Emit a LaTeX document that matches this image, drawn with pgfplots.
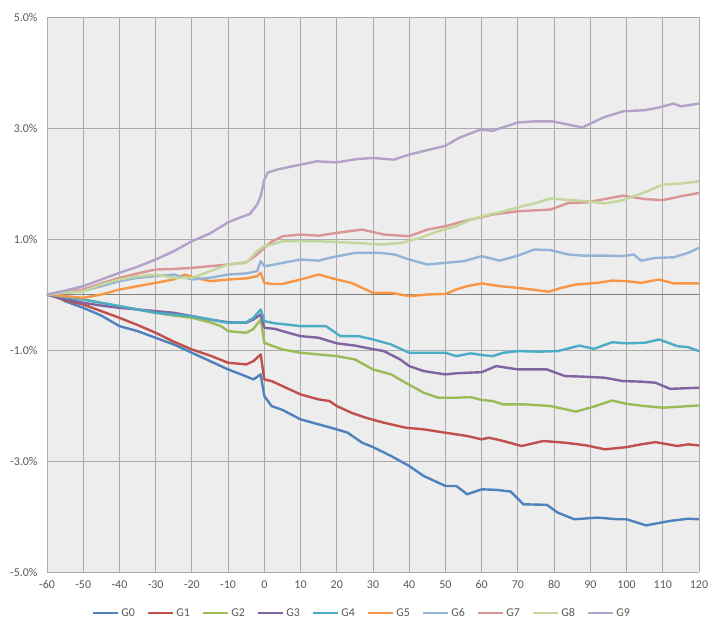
\documentclass[border=0pt]{standalone}
\usepackage{fontspec}
\setmainfont{Carlito}
\usepackage{pgfplots}
\pgfplotsset{compat=1.18}
\definecolor{cG0}{HTML}{4F81BD}
\definecolor{cG1}{HTML}{C0504D}
\definecolor{cG2}{HTML}{9BBB59}
\definecolor{cG3}{HTML}{8064A2}
\definecolor{cG4}{HTML}{4BACC6}
\definecolor{cG5}{HTML}{F79646}
\definecolor{cG6}{HTML}{95B3D7}
\definecolor{cG7}{HTML}{D99694}
\definecolor{cG8}{HTML}{C3D69B}
\definecolor{cG9}{HTML}{B3A2C7}
\definecolor{txt}{HTML}{595959}
\definecolor{bg}{HTML}{EDEDED}
\definecolor{grd}{HTML}{ABABAB}
\begin{document}
\begin{tikzpicture}
\useasboundingbox (-47bp,-52bp) rectangle (661bp,572bp);
\begin{axis}[
  at={(0,0)}, anchor=south west,
  scale only axis, width=652bp, height=555bp,
  xmin=-60, xmax=120, ymin=-5, ymax=5,
  axis line style={draw=none},
  axis background/.style={fill=bg},
  major tick length=0pt,
  xtick={-60,-50,...,120},
  xticklabels={-60,-50,-40,-30,-20,-10,0,10,20,30,40,50,60,70,80,90,100,110,120},
  ytick={-5,-3,-1,1,3,5},
  yticklabels={-5.0\%,-3.0\%,-1.0\%,1.0\%,3.0\%,5.0\%},
  extra y ticks={0}, extra y tick labels={},
  extra y tick style={grid style={draw=black!50, line width=1bp}},
  grid=major,
  grid style={draw=grd, line width=0.9bp},
  tick label style={font=\fontsize{12}{14}\selectfont, text=txt},
  xticklabel style={yshift=-5bp},
  yticklabel style={xshift=-6bp},
  legend columns=10,
  legend style={at={(0.483,-0.074)}, anchor=center, draw=none, fill=none,
    font=\fontsize{12}{14}\selectfont, text=txt,
    nodes={inner xsep=2bp},
    /tikz/every even column/.append style={column sep=10bp}},
  legend image code/.code={\draw[#1, line width=2.4bp] (0bp,0bp) -- (25bp,0bp);},
  every axis plot/.append style={line width=2.4bp, no marks, line join=round},
]
\addplot[cG0] coordinates {(-60,0) (-57,-0.05) (-55,-0.12) (-50,-0.24) (-45,-0.38) (-40,-0.57) (-35,-0.66) (-30,-0.78) (-25,-0.9) (-20,-1.05) (-15,-1.2) (-10,-1.35) (-6,-1.45) (-3,-1.53) (-1,-1.44) (0,-1.83) (2,-2.01) (5,-2.08) (10,-2.25) (15,-2.34) (20,-2.43) (23,-2.49) (27,-2.67) (30,-2.75) (35,-2.91) (40,-3.09) (44,-3.27) (50,-3.45) (53,-3.45) (56,-3.60) (60,-3.51) (64,-3.52) (68,-3.55) (71.5,-3.78) (78,-3.79) (81,-3.93) (85.6,-4.05) (92,-4.02) (97.6,-4.05) (100,-4.05) (105.4,-4.16) (112,-4.08) (117,-4.04) (120,-4.05)};
\addlegendentry{G0}
\addplot[cG1] coordinates {(-60,0) (-55,-0.1) (-50,-0.18) (-45,-0.3) (-40,-0.42) (-35,-0.55) (-30,-0.69) (-25,-0.85) (-20,-0.99) (-15,-1.1) (-10,-1.23) (-5,-1.26) (-3,-1.2) (-1,-1.08) (0,-1.53) (2,-1.56) (5,-1.65) (10,-1.80) (15,-1.89) (18,-1.92) (20,-2.01) (24,-2.13) (28,-2.22) (33,-2.31) (39,-2.40) (44,-2.43) (50,-2.49) (56,-2.55) (60,-2.61) (62,-2.58) (66,-2.64) (71,-2.73) (77,-2.64) (83,-2.67) (89,-2.72) (94,-2.79) (100,-2.75) (104,-2.70) (108,-2.66) (114,-2.73) (117,-2.70) (120,-2.72)};
\addlegendentry{G1}
\addplot[cG2] coordinates {(-60,0) (-55,-0.05) (-50,-0.09) (-45,-0.15) (-40,-0.21) (-35,-0.27) (-30,-0.33) (-25,-0.38) (-20,-0.42) (-15,-0.5) (-12,-0.57) (-10,-0.66) (-5,-0.69) (-3,-0.62) (-1,-0.45) (0,-0.87) (2,-0.92) (5,-0.99) (10,-1.05) (15,-1.08) (20,-1.11) (25,-1.17) (30,-1.35) (35,-1.44) (39,-1.59) (44,-1.77) (48,-1.86) (53,-1.86) (57,-1.85) (60,-1.90) (63,-1.92) (66,-1.98) (72,-1.98) (79,-2.01) (86,-2.11) (91,-2.02) (96,-1.91) (100,-1.97) (105,-2.01) (110,-2.04) (115,-2.02) (120,-2.00)};
\addlegendentry{G2}
\addplot[cG3] coordinates {(-60,0) (-55,-0.08) (-50,-0.15) (-45,-0.2) (-40,-0.24) (-35,-0.27) (-30,-0.3) (-25,-0.33) (-20,-0.39) (-15,-0.45) (-10,-0.50) (-5,-0.51) (-3,-0.45) (-1,-0.36) (0,-0.60) (3,-0.62) (5,-0.66) (10,-0.75) (15,-0.78) (20,-0.88) (25,-0.92) (28,-0.96) (33,-1.02) (37.5,-1.17) (40,-1.29) (44,-1.38) (50,-1.44) (53,-1.42) (56,-1.41) (60,-1.40) (64,-1.29) (70,-1.35) (78,-1.35) (83,-1.47) (88,-1.48) (94,-1.50) (99,-1.56) (104,-1.57) (108,-1.59) (112,-1.70) (120,-1.68)};
\addlegendentry{G3}
\addplot[cG4] coordinates {(-60,0) (-55,-0.05) (-50,-0.09) (-45,-0.15) (-40,-0.21) (-35,-0.27) (-30,-0.33) (-25,-0.36) (-20,-0.39) (-15,-0.45) (-10,-0.51) (-5,-0.5) (-3,-0.42) (-1,-0.27) (0,-0.48) (3,-0.52) (6,-0.54) (10,-0.57) (17,-0.57) (21,-0.75) (26,-0.75) (30,-0.81) (35,-0.90) (40,-1.05) (45,-1.05) (50,-1.05) (53,-1.11) (57,-1.06) (60,-1.09) (63,-1.11) (66,-1.05) (70,-1.02) (76,-1.03) (81,-1.02) (87,-0.92) (91,-0.98) (96,-0.86) (100,-0.88) (105,-0.87) (109,-0.81) (114,-0.93) (117,-0.95) (120,-1.02)};
\addlegendentry{G4}
\addplot[cG5] coordinates {(-60,0) (-55,-0.03) (-50,-0.06) (-45,0.0) (-40,0.09) (-35,0.15) (-30,0.21) (-25,0.27) (-22,0.36) (-19,0.30) (-15,0.24) (-10,0.27) (-5,0.29) (-2,0.33) (-1,0.39) (0,0.21) (2,0.19) (5,0.19) (10,0.27) (15,0.36) (20,0.27) (24,0.21) (28,0.09) (30,0.03) (35,0.03) (40,-0.03) (45,0.0) (50,0.01) (53,0.09) (56,0.15) (60,0.20) (65,0.15) (70,0.12) (75,0.08) (78.5,0.05) (82,0.12) (86,0.18) (92,0.21) (96,0.25) (100,0.24) (104,0.21) (109,0.27) (113,0.20) (120,0.20)};
\addlegendentry{G5}
\addplot[cG6] coordinates {(-60,0) (-55,0.03) (-50,0.06) (-45,0.15) (-40,0.24) (-35,0.3) (-30,0.33) (-25,0.36) (-20,0.27) (-15,0.3) (-10,0.36) (-5,0.38) (-2,0.42) (-1,0.60) (0,0.51) (2,0.53) (5,0.57) (10,0.63) (15,0.61) (18,0.66) (25,0.75) (32,0.75) (36,0.72) (40,0.63) (45,0.54) (50,0.57) (55,0.60) (60,0.69) (65,0.61) (70,0.7) (74.5,0.81) (79,0.80) (84,0.72) (88,0.70) (95,0.70) (99,0.69) (102,0.72) (104,0.61) (108,0.66) (113,0.67) (117,0.75) (120,0.84)};
\addlegendentry{G6}
\addplot[cG7] coordinates {(-60,0) (-55,0.05) (-50,0.09) (-45,0.2) (-40,0.30) (-35,0.38) (-30,0.45) (-25,0.46) (-20,0.48) (-15,0.51) (-10,0.54) (-5,0.58) (-2,0.72) (0,0.84) (2,0.95) (5,1.05) (10,1.08) (15,1.06) (20,1.11) (27,1.17) (33,1.08) (40,1.05) (45,1.17) (50,1.23) (55,1.32) (59,1.38) (63,1.44) (70,1.50) (79,1.53) (84,1.65) (89,1.66) (99,1.78) (105,1.72) (110,1.70) (115,1.77) (120,1.83)};
\addlegendentry{G7}
\addplot[cG8] coordinates {(-60,0) (-55,0.03) (-50,0.06) (-45,0.18) (-40,0.27) (-35,0.33) (-30,0.36) (-25,0.30) (-20,0.30) (-15,0.42) (-10,0.54) (-5,0.57) (-2,0.78) (0,0.87) (2,0.90) (5,0.96) (15,0.96) (25,0.93) (32,0.90) (38,0.93) (43,1.02) (48,1.14) (53,1.23) (56,1.32) (60,1.41) (65,1.48) (70,1.57) (75,1.65) (79,1.73) (85,1.70) (89,1.68) (94,1.64) (99,1.70) (105,1.84) (110,1.98) (115,2.0) (120,2.04)};
\addlegendentry{G8}
\addplot[cG9] coordinates {(-60,0) (-55,0.07) (-50,0.15) (-45,0.27) (-40,0.39) (-35,0.5) (-30,0.63) (-25,0.78) (-20,0.96) (-15,1.1) (-10,1.30) (-7,1.38) (-4,1.45) (-2,1.62) (-1,1.77) (0,2.07) (1,2.2) (3.5,2.25) (7,2.30) (10,2.34) (14.5,2.40) (20,2.38) (25.6,2.44) (30,2.46) (35.7,2.43) (40,2.52) (45,2.60) (50,2.68) (54,2.83) (59.6,2.97) (63,2.95) (70,3.10) (75,3.12) (79.5,3.12) (84,3.06) (87.8,3.01) (93.6,3.19) (99,3.30) (105,3.32) (109,3.37) (113,3.44) (115,3.39) (120,3.44)};
\addlegendentry{G9}
\end{axis}
\end{tikzpicture}
\end{document}
